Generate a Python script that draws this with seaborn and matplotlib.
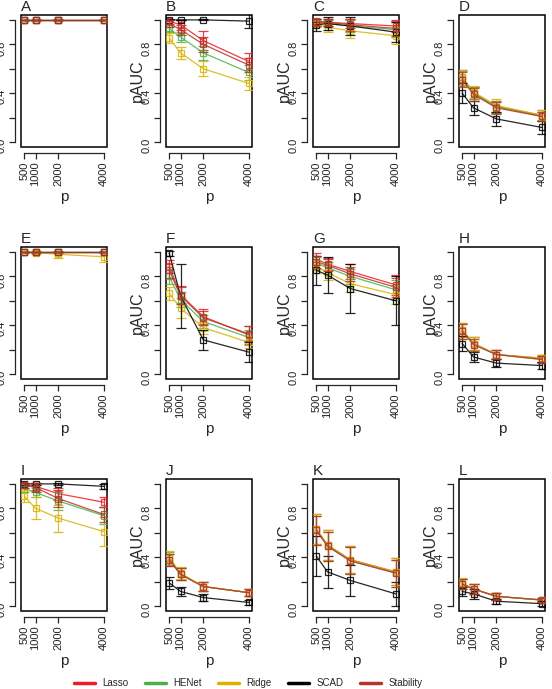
import matplotlib
matplotlib.use("Agg")
import matplotlib.pyplot as plt
import matplotlib.patches as mpatches
from matplotlib.lines import Line2D
import seaborn as sns

P = [500, 1000, 2000, 4000]
METHODS = ["Lasso", "HENet", "Ridge", "SCAD", "Stability"]
COLORS = {"Lasso": "#EE1C25", "HENet": "#4DAF4A", "Ridge": "#D9B300",
          "SCAD": "#000000", "Stability": "#B2372B"}
PANELS = ["A", "B", "C", "D", "E", "F", "G", "H", "I", "J", "K", "L"]

# mean pAUC per method, one dict per panel (order: p = 500, 1000, 2000, 4000)
A_mean = {"Lasso": [1, 1, 1, 1], "HENet": [1, 1, 1, 1], "Ridge": [1, 1, 1, 1],
          "SCAD": [1, 1, 1, 1], "Stability": [1, 1, 1, 1]}
A_err = {"Lasso": [.003] * 4, "HENet": [.003] * 4, "Ridge": [.003] * 4,
         "SCAD": [.003] * 4, "Stability": [.003] * 4}

B_mean = {"Lasso": [.99, .96, .83, .66], "HENet": [.93, .86, .73, .57],
          "Ridge": [.85, .73, .60, .48], "SCAD": [1.0, 1.0, 1.0, .99],
          "Stability": [.97, .92, .80, .63]}
B_err = {"Lasso": [.02, .04, .08, .07], "HENet": [.03, .04, .06, .06],
         "Ridge": [.04, .05, .06, .05], "SCAD": [.003, .003, .005, .06],
         "Stability": [.03, .04, .06, .06]}

C_mean = {"Lasso": [.99, .98, .97, .95], "HENet": [.98, .97, .95, .92],
          "Ridge": [.97, .94, .91, .87], "SCAD": [.96, .97, .95, .90],
          "Stability": [.98, .98, .96, .93]}
C_err = {"Lasso": [.02, .03, .04, .05], "HENet": [.03, .03, .05, .06],
         "Ridge": [.03, .04, .06, .07], "SCAD": [.05, .05, .07, .08],
         "Stability": [.03, .03, .05, .06]}

D_mean = {"Lasso": [.53, .40, .29, .22], "HENet": [.52, .40, .29, .21],
          "Ridge": [.53, .41, .30, .22], "SCAD": [.40, .28, .19, .12],
          "Stability": [.51, .39, .28, .21]}
D_err = {"Lasso": [.06, .05, .05, .04], "HENet": [.06, .05, .05, .04],
         "Ridge": [.06, .05, .05, .04], "SCAD": [.08, .06, .06, .05],
         "Stability": [.06, .05, .05, .04]}

E_mean = {"Lasso": [1, 1, 1, 1], "HENet": [1, 1, 1, 1],
          "Ridge": [1.0, .995, .98, .96], "SCAD": [1, 1, 1, 1],
          "Stability": [1, 1, 1, 1]}
E_err = {"Lasso": [.003] * 4, "HENet": [.003] * 4,
         "Ridge": [.005, .01, .03, .04], "SCAD": [.003] * 4,
         "Stability": [.003] * 4}

F_mean = {"Lasso": [.88, .65, .47, .32], "HENet": [.80, .61, .43, .30],
          "Ridge": [.66, .54, .38, .26], "SCAD": [.99, .64, .28, .18],
          "Stability": [.85, .64, .46, .33]}
F_err = {"Lasso": [.05, .07, .06, .07], "HENet": [.06, .06, .05, .06],
         "Ridge": [.05, .08, .05, .05], "SCAD": [.02, .26, .08, .08],
         "Stability": [.06, .07, .06, .06]}

G_mean = {"Lasso": [.94, .90, .84, .73], "HENet": [.91, .87, .80, .69],
          "Ridge": [.88, .83, .74, .65], "SCAD": [.85, .81, .70, .60],
          "Stability": [.92, .89, .82, .71]}
G_err = {"Lasso": [.05, .05, .06, .08], "HENet": [.05, .05, .06, .08],
         "Ridge": [.05, .06, .07, .08], "SCAD": [.12, .15, .20, .20],
         "Stability": [.05, .05, .06, .08]}

H_mean = {"Lasso": [.36, .25, .16, .13], "HENet": [.35, .25, .16, .12],
          "Ridge": [.36, .25, .16, .13], "SCAD": [.25, .14, .09, .07],
          "Stability": [.35, .24, .16, .12]}
H_err = {"Lasso": [.06, .05, .04, .03], "HENet": [.06, .05, .04, .03],
         "Ridge": [.06, .05, .04, .03], "SCAD": [.06, .04, .03, .03],
         "Stability": [.06, .05, .04, .03]}

I_mean = {"Lasso": [.99, .98, .92, .85], "HENet": [.96, .93, .86, .74],
          "Ridge": [.90, .80, .72, .61], "SCAD": [1.0, 1.0, 1.0, .98],
          "Stability": [.99, .97, .88, .75]}
I_err = {"Lasso": [.02, .03, .05, .04], "HENet": [.03, .04, .07, .07],
         "Ridge": [.05, .09, .11, .12], "SCAD": [.005, .01, .01, .02],
         "Stability": [.02, .04, .07, .06]}

J_mean = {"Lasso": [.38, .26, .16, .11], "HENet": [.39, .26, .16, .11],
          "Ridge": [.40, .27, .16, .11], "SCAD": [.19, .12, .07, .03],
          "Stability": [.38, .26, .16, .11]}
J_err = {"Lasso": [.05, .05, .04, .03], "HENet": [.05, .05, .04, .03],
         "Ridge": [.05, .05, .04, .03], "SCAD": [.05, .04, .03, .02],
         "Stability": [.05, .05, .04, .03]}

K_mean = {"Lasso": [.63, .50, .38, .28], "HENet": [.62, .49, .37, .27],
          "Ridge": [.63, .50, .38, .28], "SCAD": [.41, .28, .21, .10],
          "Stability": [.62, .49, .37, .27]}
K_err = {"Lasso": [.12, .12, .11, .11], "HENet": [.12, .12, .11, .11],
         "Ridge": [.12, .12, .11, .11], "SCAD": [.16, .13, .13, .10],
         "Stability": [.12, .12, .11, .11]}

L_mean = {"Lasso": [.18, .14, .08, .05], "HENet": [.18, .14, .08, .05],
          "Ridge": [.19, .14, .08, .05], "SCAD": [.12, .10, .04, .02],
          "Stability": [.18, .14, .08, .05]}
L_err = {"Lasso": [.04, .04, .03, .02], "HENet": [.04, .04, .03, .02],
         "Ridge": [.04, .04, .03, .02], "SCAD": [.04, .04, .02, .02],
         "Stability": [.04, .04, .03, .02]}

MEANS = [A_mean, B_mean, C_mean, D_mean, E_mean, F_mean,
         G_mean, H_mean, I_mean, J_mean, K_mean, L_mean]
ERRS = [A_err, B_err, C_err, D_err, E_err, F_err,
        G_err, H_err, I_err, J_err, K_err, L_err]

sns.set_style("ticks")
plt.rcParams["font.family"] = ["Liberation Sans", "DejaVu Sans"]

W, H = 552, 689
fig = plt.figure(figsize=(W / 100, H / 100), dpi=100)

col_left = [21, 166, 313, 459]
row_top = [15, 247, 479]
aw, ah = 86, 132

for i, name in enumerate(PANELS):
    r, c = divmod(i, 4)
    ax = fig.add_axes([col_left[c] / W, 1 - (row_top[r] + ah) / H, aw / W, ah / H])
    for m in METHODS:
        col = COLORS[m]
        sns.lineplot(x=P, y=MEANS[i][m], color=col, marker="s", ms=5,
                     mfc="none", mec=col, mew=0.9, lw=0.9, alpha=0.85,
                     ax=ax, legend=False)
        ax.errorbar(P, MEANS[i][m], yerr=ERRS[i][m], fmt="none", ecolor=col,
                    elinewidth=0.9, capsize=3.5, capthick=0.9, alpha=0.85)
    ax.set_xlim(360, 4140)
    ax.set_ylim(-0.04, 1.04)
    ax.set_xticks(P)
    ax.set_xticklabels([str(v) for v in P])
    ax.set_yticks([0, .2, .4, .6, .8, 1.0])
    ax.set_yticklabels(["0.0", "", "0.4", "", "0.8", ""])
    ax.tick_params(direction="out", length=4.5, width=0.9, pad=2,
                   labelsize=8, labelrotation=90, labelcolor="#222222")
    for lab in ax.get_yticklabels():
        lab.set_verticalalignment("center")
    ax.spines["top"].set_visible(False)
    ax.spines["right"].set_visible(False)
    ax.spines["left"].set_position(("outward", 4))
    ax.spines["bottom"].set_position(("outward", 4))
    ax.spines["left"].set_bounds(0, 1)
    ax.spines["bottom"].set_bounds(500, 4000)
    for s in ["left", "bottom"]:
        ax.spines[s].set_linewidth(0.9)
    ax.add_patch(mpatches.Rectangle((0, 0), 1, 1, transform=ax.transAxes,
                                    fill=False, lw=1.1, ec="black", clip_on=False))
    ax.set_xlabel("")
    ax.set_ylabel("")
    ax.text(0, 1 + 1 / ah, name, transform=ax.transAxes, ha="left",
            va="bottom", fontsize=11)
    ax.text(0.5, -50 / ah, "p", transform=ax.transAxes, ha="center",
            va="center", fontsize=11)
    if c > 0:
        ax.text(-29 / aw, 0.5, "pAUC", transform=ax.transAxes, rotation=90,
                ha="center", va="center", fontsize=11.5)

handles = [Line2D([], [], color=COLORS[m], lw=2.5) for m in METHODS]
fig.legend(handles, METHODS, loc="center", bbox_to_anchor=(0.45, 1 - 683 / H),
           ncol=5, frameon=False, fontsize=7, handlelength=2.1,
           handletextpad=0.8, columnspacing=1.7)

fig.savefig("out.png", dpi=100)
plt.close(fig)
